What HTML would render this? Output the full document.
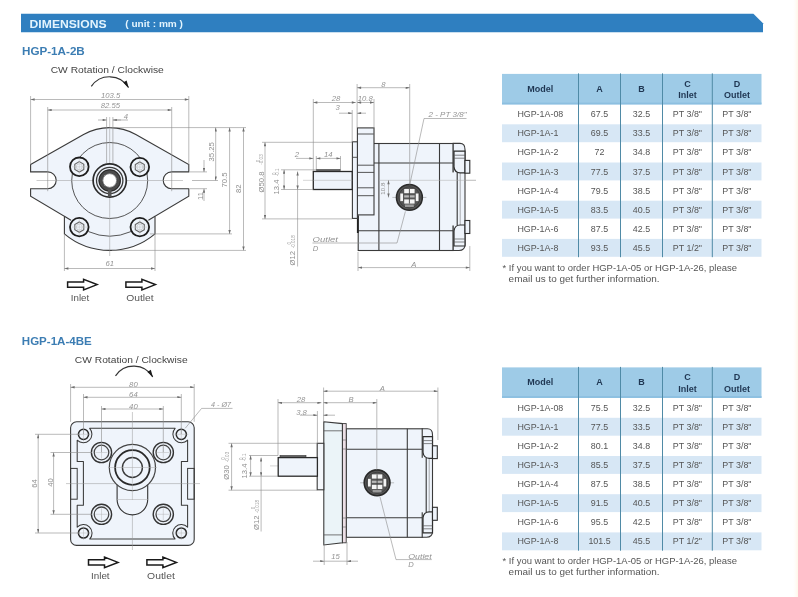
<!DOCTYPE html>
<html><head><meta charset="utf-8"><title>Dimensions</title>
<style>
html,body{margin:0;padding:0;background:#fff;}
body{width:798px;height:597px;overflow:hidden;font-family:"Liberation Sans", sans-serif;}
svg{display:block;font-family:"Liberation Sans", sans-serif;will-change:transform;}
</style></head><body>
<svg width="798" height="597" viewBox="0 0 798 597">
<rect x="0" y="0" width="798" height="597" fill="#fff"/>
<defs><linearGradient id="rg" x1="0" x2="1" y1="0" y2="0"><stop offset="0" stop-color="#fff" stop-opacity="0"/><stop offset="1" stop-color="#fff6e8"/></linearGradient></defs><rect x="792" y="0" width="6" height="597" fill="url(#rg)"/>
<defs><marker id="ar" viewBox="0 0 10 6" refX="10" refY="3" markerWidth="5.2" markerHeight="2.4" markerUnits="userSpaceOnUse" orient="auto-start-reverse"><path d="M0,0 L10,3 L0,6 Z" fill="#6e6e6e"/></marker></defs>
<polygon points="21,13.8 753.4,13.8 763,23.2 763,32.3 21,32.3" fill="#2f7fc0"/>
<text x="29.6" y="27.5" font-size="10.8" font-weight="bold" fill="#e3f4fd" textLength="77" lengthAdjust="spacingAndGlyphs">DIMENSIONS</text>
<text x="125.3" y="26.8" font-size="8.8" font-weight="bold" fill="#e3f4fd" textLength="57.7" lengthAdjust="spacingAndGlyphs">( unit : mm )</text>
<text x="22" y="54.6" font-size="11.4" font-weight="bold" fill="#3c7db3" textLength="62.8" lengthAdjust="spacingAndGlyphs">HGP-1A-2B</text>
<text x="50.7" y="72.5" font-size="9" fill="#444" textLength="113.1" lengthAdjust="spacingAndGlyphs">CW Rotation / Clockwise</text>
<path d="M91.3,86.4 A22.1,22.1 0 0 1 128.50,87.50" fill="none" stroke="#333" stroke-width="1.2"/><path d="M128.76,87.93 L123.18,82.53 L126.61,80.47 Z" fill="#1a1a1a"/>
<text x="21.8" y="345.1" font-size="11.4" font-weight="bold" fill="#3c7db3" textLength="69.9" lengthAdjust="spacingAndGlyphs">HGP-1A-4BE</text>
<text x="74.8" y="362.7" font-size="9" fill="#444" textLength="112.8" lengthAdjust="spacingAndGlyphs">CW Rotation / Clockwise</text>
<path d="M115.5,375.8 A22.1,22.1 0 0 1 152.70,376.90" fill="none" stroke="#333" stroke-width="1.2"/><path d="M152.96,377.33 L147.38,371.93 L150.81,369.87 Z" fill="#1a1a1a"/>
<polygon points="67.6,282.0 83.6,282.0 83.6,279.3 97.1,284.6 83.6,289.9 83.6,287.2 67.6,287.2" fill="#fff" stroke="#1a1a1a" stroke-width="1.5" stroke-linejoin="miter"/>
<polygon points="125.9,282.0 141.9,282.0 141.9,279.3 155.4,284.6 141.9,289.9 141.9,287.2 125.9,287.2" fill="#fff" stroke="#1a1a1a" stroke-width="1.5" stroke-linejoin="miter"/>
<text x="70.8" y="301" font-size="9" fill="#555" textLength="18.4" lengthAdjust="spacingAndGlyphs">Inlet</text>
<text x="126.2" y="301" font-size="9" fill="#555" textLength="27.5" lengthAdjust="spacingAndGlyphs">Outlet</text>
<polygon points="88.5,559.8 104.5,559.8 104.5,557.1 118.0,562.4 104.5,567.7 104.5,565.0 88.5,565.0" fill="#fff" stroke="#1a1a1a" stroke-width="1.5" stroke-linejoin="miter"/>
<polygon points="146.9,559.8 162.9,559.8 162.9,557.1 176.4,562.4 162.9,567.7 162.9,565.0 146.9,565.0" fill="#fff" stroke="#1a1a1a" stroke-width="1.5" stroke-linejoin="miter"/>
<text x="91" y="579.2" font-size="9" fill="#555" textLength="18.6" lengthAdjust="spacingAndGlyphs">Inlet</text>
<text x="147.1" y="579.2" font-size="9" fill="#555" textLength="27.7" lengthAdjust="spacingAndGlyphs">Outlet</text>
<path d="M30.6,164.6 L83.57,134.51 A52.9,52.9 0 0 1 135.83,134.51 L188.80,164.6 L188.80,171.9 L171.60,171.9 A8.399999999999991,8.399999999999991 0 0 0 171.60,188.7 L188.80,188.7 L188.80,196.3 L155,216.3 L155,233.9 A70.4,70.4 0 0 1 64.4,233.9 L64.4,216.3 L30.6,196.3 L30.6,188.7 L47.8,188.7 A8.399999999999991,8.399999999999991 0 0 0 47.8,171.9 L30.6,171.9 Z" fill="#eff4fb" stroke="#3a3a3a" stroke-width="1.1"/>
<circle cx="109.7" cy="180.5" r="38" fill="none" stroke="#444" stroke-width="0.9"/>
<path d="M88.5,231.6 A53,53 0 0 0 130.9,231.6" fill="none" stroke="#444" stroke-width="0.9"/>
<line x1="36.5" y1="180.5" x2="183" y2="180.5" stroke="#999" stroke-width="0.5"/>
<line x1="109.7" y1="117" x2="109.7" y2="256" stroke="#999" stroke-width="0.5"/>
<line x1="64.4" y1="216.3" x2="71" y2="220.3" stroke="#3a3a3a" stroke-width="1.1"/>
<line x1="155" y1="216.3" x2="148.4" y2="220.3" stroke="#3a3a3a" stroke-width="1.1"/>
<circle cx="79.3" cy="166.8" r="9.3" fill="#eff4fb" stroke="#1e1e1e" stroke-width="1.8"/><polygon points="83.8,169.4 79.3,172.0 74.8,169.4 74.8,164.2 79.3,161.6 83.8,164.2" fill="none" stroke="#666" stroke-width="1.1"/><circle cx="79.3" cy="166.8" r="3" fill="none" stroke="#bbb" stroke-width="0.6"/><line x1="71.3" y1="166.8" x2="87.3" y2="166.8" stroke="#c4c4c4" stroke-width="0.5"/><line x1="79.3" y1="158.8" x2="79.3" y2="174.8" stroke="#c4c4c4" stroke-width="0.5"/>
<circle cx="139.8" cy="167.1" r="9.3" fill="#eff4fb" stroke="#1e1e1e" stroke-width="1.8"/><polygon points="144.3,169.7 139.8,172.3 135.3,169.7 135.3,164.5 139.8,161.9 144.3,164.5" fill="none" stroke="#666" stroke-width="1.1"/><circle cx="139.8" cy="167.1" r="3" fill="none" stroke="#bbb" stroke-width="0.6"/><line x1="131.8" y1="167.1" x2="147.8" y2="167.1" stroke="#c4c4c4" stroke-width="0.5"/><line x1="139.8" y1="159.1" x2="139.8" y2="175.1" stroke="#c4c4c4" stroke-width="0.5"/>
<circle cx="79.3" cy="227.1" r="9.3" fill="#eff4fb" stroke="#1e1e1e" stroke-width="1.8"/><polygon points="83.8,229.7 79.3,232.3 74.8,229.7 74.8,224.5 79.3,221.9 83.8,224.5" fill="none" stroke="#666" stroke-width="1.1"/><circle cx="79.3" cy="227.1" r="3" fill="none" stroke="#bbb" stroke-width="0.6"/><line x1="71.3" y1="227.1" x2="87.3" y2="227.1" stroke="#c4c4c4" stroke-width="0.5"/><line x1="79.3" y1="219.1" x2="79.3" y2="235.1" stroke="#c4c4c4" stroke-width="0.5"/>
<circle cx="139.8" cy="227.1" r="9.3" fill="#eff4fb" stroke="#1e1e1e" stroke-width="1.8"/><polygon points="144.3,229.7 139.8,232.3 135.3,229.7 135.3,224.5 139.8,221.9 144.3,224.5" fill="none" stroke="#666" stroke-width="1.1"/><circle cx="139.8" cy="227.1" r="3" fill="none" stroke="#bbb" stroke-width="0.6"/><line x1="131.8" y1="227.1" x2="147.8" y2="227.1" stroke="#c4c4c4" stroke-width="0.5"/><line x1="139.8" y1="219.1" x2="139.8" y2="235.1" stroke="#c4c4c4" stroke-width="0.5"/>
<circle cx="109.7" cy="180.5" r="16.6" fill="#eff4fb" stroke="#2a2a2a" stroke-width="1.7"/>
<circle cx="109.7" cy="180.5" r="13.2" fill="none" stroke="#3a3a3a" stroke-width="1.3"/>
<circle cx="109.7" cy="180.5" r="9.2" fill="none" stroke="#4a4a4a" stroke-width="4.2"/>
<circle cx="109.7" cy="180.5" r="10.6" fill="none" stroke="#2a2a2a" stroke-width="1"/>
<circle cx="109.7" cy="180.5" r="6.9" fill="#fff" stroke="#333" stroke-width="0.6"/>
<rect x="107.9" y="189.5" width="3.6" height="7" fill="#555"/>
<line x1="30.6" y1="96" x2="30.6" y2="164.6" stroke="#8c8c8c" stroke-width="0.6" fill="none"/>
<line x1="188.8" y1="96" x2="188.8" y2="164.6" stroke="#8c8c8c" stroke-width="0.6" fill="none"/>
<line x1="47.7" y1="107" x2="47.7" y2="191.2" stroke="#8c8c8c" stroke-width="0.6" fill="none"/>
<line x1="171.7" y1="107" x2="171.7" y2="191.2" stroke="#8c8c8c" stroke-width="0.6" fill="none"/>
<line x1="106.6" y1="117" x2="106.6" y2="163.5" stroke="#8c8c8c" stroke-width="0.6" fill="none"/>
<line x1="112.9" y1="117" x2="112.9" y2="163.5" stroke="#8c8c8c" stroke-width="0.6" fill="none"/>
<line x1="30.6" y1="99.5" x2="188.8" y2="99.5" stroke="#8c8c8c" stroke-width="0.6" fill="none" marker-start="url(#ar)" marker-end="url(#ar)"/>
<text x="110.6" y="97.7" font-size="7.7" fill="#939393" text-anchor="middle" font-style="italic">103.5</text>
<line x1="47.7" y1="110" x2="171.7" y2="110" stroke="#8c8c8c" stroke-width="0.6" fill="none" marker-start="url(#ar)" marker-end="url(#ar)"/>
<text x="110.4" y="108.2" font-size="7.7" fill="#939393" text-anchor="middle" font-style="italic">82.55</text>
<line x1="98" y1="120" x2="106.6" y2="120" stroke="#8c8c8c" stroke-width="0.6" fill="none" marker-end="url(#ar)"/>
<line x1="121" y1="120" x2="112.9" y2="120" stroke="#8c8c8c" stroke-width="0.6" fill="none" marker-end="url(#ar)"/>
<line x1="112.9" y1="120" x2="128" y2="120" stroke="#8c8c8c" stroke-width="0.6" fill="none"/>
<text x="126" y="119.4" font-size="7.7" fill="#939393" text-anchor="middle" font-style="italic">4</text>
<line x1="110" y1="127.6" x2="246" y2="127.6" stroke="#8c8c8c" stroke-width="0.6" fill="none"/>
<line x1="192" y1="180.5" x2="218" y2="180.5" stroke="#8c8c8c" stroke-width="0.6" fill="none"/>
<line x1="150" y1="233.9" x2="232" y2="233.9" stroke="#8c8c8c" stroke-width="0.6" fill="none"/>
<line x1="112" y1="250.4" x2="246" y2="250.4" stroke="#8c8c8c" stroke-width="0.6" fill="none"/>
<line x1="190" y1="171.9" x2="207" y2="171.9" stroke="#8c8c8c" stroke-width="0.6" fill="none"/>
<line x1="190" y1="188.7" x2="207" y2="188.7" stroke="#8c8c8c" stroke-width="0.6" fill="none"/>
<line x1="215.7" y1="127.6" x2="215.7" y2="180.5" stroke="#8c8c8c" stroke-width="0.6" fill="none" marker-start="url(#ar)" marker-end="url(#ar)"/>
<text x="214" y="151.8" transform="rotate(-90 214 151.8)" font-size="7.7" fill="#8e8e8e" text-anchor="middle">35.25</text>
<line x1="229.6" y1="127.6" x2="229.6" y2="233.9" stroke="#8c8c8c" stroke-width="0.6" fill="none" marker-start="url(#ar)" marker-end="url(#ar)"/>
<text x="227" y="180" transform="rotate(-90 227 180)" font-size="7.7" fill="#8e8e8e" text-anchor="middle">70.5</text>
<line x1="243.5" y1="127.6" x2="243.5" y2="250.4" stroke="#8c8c8c" stroke-width="0.6" fill="none" marker-start="url(#ar)" marker-end="url(#ar)"/>
<text x="241" y="188.7" transform="rotate(-90 241 188.7)" font-size="7.7" fill="#8e8e8e" text-anchor="middle">82</text>
<line x1="204" y1="160" x2="204" y2="171.9" stroke="#8c8c8c" stroke-width="0.6" fill="none" marker-end="url(#ar)"/>
<line x1="204" y1="201" x2="204" y2="188.7" stroke="#8c8c8c" stroke-width="0.6" fill="none" marker-end="url(#ar)"/>
<text x="202.6" y="196" transform="rotate(-90 202.6 196)" font-size="7.7" fill="#8e8e8e" text-anchor="middle">11</text>
<line x1="64.4" y1="234" x2="64.4" y2="271" stroke="#8c8c8c" stroke-width="0.6" fill="none"/>
<line x1="155" y1="234" x2="155" y2="271" stroke="#8c8c8c" stroke-width="0.6" fill="none"/>
<line x1="64.4" y1="268.5" x2="155" y2="268.5" stroke="#8c8c8c" stroke-width="0.6" fill="none" marker-start="url(#ar)" marker-end="url(#ar)"/>
<text x="109.7" y="266.3" font-size="7.7" fill="#939393" text-anchor="middle" font-style="italic">61</text>
<line x1="303" y1="180.3" x2="476" y2="180.3" stroke="#aaa" stroke-width="0.5"/>
<rect x="358.2" y="143.5" width="95" height="107" fill="#eff4fb" stroke="#3a3a3a" stroke-width="1.1"/>
<line x1="378.9" y1="143.5" x2="378.9" y2="250.5" stroke="#3a3a3a" stroke-width="1.1"/>
<line x1="439.5" y1="143.5" x2="439.5" y2="250.5" stroke="#3a3a3a" stroke-width="1.1"/>
<line x1="374" y1="163" x2="453.2" y2="163" stroke="#3a3a3a" stroke-width="1.1"/>
<line x1="358.2" y1="230.7" x2="453.2" y2="230.7" stroke="#3a3a3a" stroke-width="1.1"/>
<line x1="357.8" y1="216" x2="357.8" y2="233" stroke="#222" stroke-width="1.8"/>
<path d="M453.2,143.4 L460.0,143.4 Q465.0,143.4 465.0,149.4 L465.0,244.5 Q465.0,250.5 459.0,250.5 L453.2,250.5 Z" fill="#eff4fb" stroke="#3a3a3a" stroke-width="1.1"/>
<rect x="451.2" y="172.4" width="6" height="53.099999999999994" fill="#eff4fb"/>
<line x1="457.2" y1="172.4" x2="457.2" y2="225.5" stroke="#333" stroke-width="1.1"/>
<line x1="460.2" y1="172.4" x2="460.2" y2="225.5" stroke="#777" stroke-width="0.6"/>
<path d="M454.0,151.20000000000002 L465.0,151.20000000000002 L465.0,172.9 L460.2,172.9 Q454.7,172.9 454.0,166.9 Z" fill="#eff4fb" stroke="#2e2e2e" stroke-width="1.2"/>
<line x1="454.2" y1="155.20000000000002" x2="465.0" y2="155.20000000000002" stroke="#555" stroke-width="0.7"/>
<line x1="454.2" y1="158.20000000000002" x2="465.0" y2="158.20000000000002" stroke="#555" stroke-width="0.7"/>
<rect x="465.0" y="160.4" width="4.8" height="12.8" fill="#eff4fb" stroke="#2e2e2e" stroke-width="1.1"/>
<path d="M454.0,246.0 L465.0,246.0 L465.0,225.0 L460.2,225.0 Q454.7,225.0 454.0,231.0 Z" fill="#eff4fb" stroke="#2e2e2e" stroke-width="1.2"/>
<line x1="454.2" y1="242.0" x2="465.0" y2="242.0" stroke="#555" stroke-width="0.7"/>
<line x1="454.2" y1="239.0" x2="465.0" y2="239.0" stroke="#555" stroke-width="0.7"/>
<rect x="465.0" y="220.5" width="4.8" height="13" fill="#eff4fb" stroke="#2e2e2e" stroke-width="1.1"/>
<rect x="357.4" y="127.9" width="16.6" height="87" fill="#eff4fb" stroke="#3a3a3a" stroke-width="1.1"/>
<line x1="357.4" y1="134" x2="374" y2="134" stroke="#444" stroke-width="0.9"/>
<line x1="357.4" y1="165.2" x2="374" y2="165.2" stroke="#444" stroke-width="0.9"/>
<line x1="357.4" y1="172.4" x2="374" y2="172.4" stroke="#444" stroke-width="0.9"/>
<line x1="357.4" y1="187.8" x2="374" y2="187.8" stroke="#444" stroke-width="0.9"/>
<line x1="357.4" y1="195.7" x2="374" y2="195.7" stroke="#444" stroke-width="0.9"/>
<rect x="352.4" y="141.8" width="5" height="76.6" fill="#eff4fb" stroke="#3a3a3a" stroke-width="1.1"/>
<line x1="352.4" y1="157.3" x2="357.4" y2="157.3" stroke="#444" stroke-width="0.9"/>
<rect x="316.4" y="169.6" width="23.8" height="2" fill="#666" stroke="#333" stroke-width="0.6"/>
<rect x="313.3" y="171.5" width="38.9" height="18" fill="#eff4fb" stroke="#2a2a2a" stroke-width="1.3"/>
<line x1="313.3" y1="180.3" x2="352.2" y2="180.3" stroke="#aaa" stroke-width="0.5"/>
<line x1="379" y1="180.3" x2="476" y2="180.3" stroke="#aaa" stroke-width="0.5"/>
<line x1="392.4" y1="197.4" x2="426.4" y2="197.4" stroke="#888" stroke-width="0.5"/>
<circle cx="409.4" cy="197.4" r="12.9" fill="#565656" stroke="#2a2a2a" stroke-width="1.6"/>
<circle cx="409.4" cy="197.4" r="10.6" fill="none" stroke="#3a3a3a" stroke-width="0.8"/>
<rect x="404.2" y="189.0" width="10.4" height="4.2" fill="#f4f4f4"/>
<rect x="404.2" y="195.3" width="10.4" height="2.2" fill="#b8b8b8"/>
<rect x="404.2" y="199.4" width="10.4" height="4.2" fill="#f4f4f4"/>
<rect x="405.0" y="204.5" width="8.8" height="2.5" fill="#9a9a9a"/>
<rect x="400.29999999999995" y="193.5" width="2.7" height="7.6" fill="#f4f4f4"/>
<rect x="415.79999999999995" y="193.5" width="2.7" height="7.6" fill="#f4f4f4"/>
<line x1="409.4" y1="189.0" x2="409.4" y2="203.6" stroke="#444" stroke-width="0.9"/>
<line x1="357.1" y1="84" x2="357.1" y2="127.5" stroke="#8c8c8c" stroke-width="0.6" fill="none"/>
<line x1="409.7" y1="84" x2="409.7" y2="184" stroke="#8c8c8c" stroke-width="0.6" fill="none"/>
<line x1="313.3" y1="99" x2="313.3" y2="171" stroke="#8c8c8c" stroke-width="0.6" fill="none"/>
<line x1="374" y1="99" x2="374" y2="143" stroke="#8c8c8c" stroke-width="0.6" fill="none"/>
<line x1="352.2" y1="110" x2="352.2" y2="142" stroke="#8c8c8c" stroke-width="0.6" fill="none"/>
<line x1="357.1" y1="87.7" x2="409.7" y2="87.7" stroke="#8c8c8c" stroke-width="0.6" fill="none" marker-start="url(#ar)" marker-end="url(#ar)"/>
<text x="383.4" y="87" font-size="7.7" fill="#939393" text-anchor="middle" font-style="italic">8</text>
<line x1="313.3" y1="102.5" x2="355.8" y2="102.5" stroke="#8c8c8c" stroke-width="0.6" fill="none" marker-start="url(#ar)" marker-end="url(#ar)"/>
<text x="336" y="101.2" font-size="7.7" fill="#939393" text-anchor="middle" font-style="italic">28</text>
<line x1="357.1" y1="102.5" x2="374" y2="102.5" stroke="#8c8c8c" stroke-width="0.6" fill="none" marker-start="url(#ar)" marker-end="url(#ar)"/>
<text x="365.2" y="101.2" font-size="7.7" fill="#939393" text-anchor="middle" font-style="italic">10.8</text>
<line x1="339" y1="113.2" x2="352.2" y2="113.2" stroke="#8c8c8c" stroke-width="0.6" fill="none" marker-end="url(#ar)"/>
<line x1="366" y1="113.2" x2="357.1" y2="113.2" stroke="#8c8c8c" stroke-width="0.6" fill="none" marker-end="url(#ar)"/>
<text x="337.6" y="110.2" font-size="7.7" fill="#939393" text-anchor="middle" font-style="italic">3</text>
<line x1="296" y1="158.4" x2="313.3" y2="158.4" stroke="#8c8c8c" stroke-width="0.6" fill="none" marker-end="url(#ar)"/>
<text x="297" y="157" font-size="7.7" fill="#939393" text-anchor="middle" font-style="italic">2</text>
<line x1="316.3" y1="158.4" x2="340.5" y2="158.4" stroke="#8c8c8c" stroke-width="0.6" fill="none" marker-start="url(#ar)" marker-end="url(#ar)"/>
<line x1="316.3" y1="156" x2="316.3" y2="171" stroke="#8c8c8c" stroke-width="0.6" fill="none"/>
<line x1="340.5" y1="156" x2="340.5" y2="171" stroke="#8c8c8c" stroke-width="0.6" fill="none"/>
<text x="328.3" y="157" font-size="7.7" fill="#939393" text-anchor="middle" font-style="italic">14</text>
<line x1="262" y1="142.3" x2="352.2" y2="142.3" stroke="#8c8c8c" stroke-width="0.6" fill="none"/>
<line x1="262" y1="218.9" x2="352.2" y2="218.9" stroke="#8c8c8c" stroke-width="0.6" fill="none"/>
<line x1="281" y1="169.8" x2="316.4" y2="169.8" stroke="#8c8c8c" stroke-width="0.6" fill="none"/>
<line x1="281" y1="189.5" x2="313.3" y2="189.5" stroke="#8c8c8c" stroke-width="0.6" fill="none"/>
<line x1="265" y1="142.3" x2="265" y2="218.9" stroke="#8c8c8c" stroke-width="0.6" fill="none" marker-start="url(#ar)" marker-end="url(#ar)"/>
<text x="263.8" y="182" transform="rotate(-90 263.8 182)" font-size="7.7" fill="#8e8e8e" text-anchor="middle">Ø50.8</text>
<text x="263.3" y="159.5" transform="rotate(-90 263.3 159.5)" font-size="4.6" fill="#999" text-anchor="middle">-0.03</text><text x="259.7" y="161.0" transform="rotate(-90 259.7 161.0)" font-size="4.6" fill="#999" text-anchor="middle">0</text>
<line x1="284.1" y1="169.8" x2="284.1" y2="189.5" stroke="#8c8c8c" stroke-width="0.6" fill="none" marker-start="url(#ar)" marker-end="url(#ar)"/>
<text x="279.4" y="187" transform="rotate(-90 279.4 187)" font-size="7.7" fill="#8e8e8e" text-anchor="middle">13.4</text>
<text x="279.2" y="172.3" transform="rotate(-90 279.2 172.3)" font-size="4.6" fill="#999" text-anchor="middle">-0.1</text><text x="275.59999999999997" y="173.8" transform="rotate(-90 275.59999999999997 173.8)" font-size="4.6" fill="#999" text-anchor="middle">0</text>
<line x1="297.6" y1="171.5" x2="297.6" y2="189.5" stroke="#8c8c8c" stroke-width="0.6" fill="none" marker-start="url(#ar)" marker-end="url(#ar)"/>
<line x1="297.6" y1="189.5" x2="297.6" y2="266.5" stroke="#8c8c8c" stroke-width="0.6" fill="none"/>
<text x="294.9" y="258.3" transform="rotate(-90 294.9 258.3)" font-size="7.7" fill="#8e8e8e" text-anchor="middle">Ø12</text>
<text x="295" y="241.8" transform="rotate(-90 295 241.8)" font-size="4.6" fill="#999" text-anchor="middle">-0.018</text><text x="291.4" y="243.3" transform="rotate(-90 291.4 243.3)" font-size="4.6" fill="#999" text-anchor="middle">0</text>
<line x1="388.5" y1="180.3" x2="388.5" y2="197.4" stroke="#8c8c8c" stroke-width="0.6" fill="none" marker-start="url(#ar)" marker-end="url(#ar)"/>
<text x="385.5" y="188.6" transform="rotate(-90 385.5 188.6)" font-size="6.2" fill="#8e8e8e" text-anchor="middle">10.8</text>
<polyline points="409.8,184.5 424,118.5 466.5,118.5" stroke="#8c8c8c" stroke-width="0.6" fill="none"/>
<text x="428.5" y="117" font-size="7.4" fill="#939393" text-anchor="start" font-style="italic" textLength="38" lengthAdjust="spacingAndGlyphs">2 - PT 3/8"</text>
<polyline points="405.4,211.4 397,243 312.5,243" stroke="#8c8c8c" stroke-width="0.6" fill="none"/>
<text x="312.6" y="241.9" font-size="7.6" fill="#939393" text-anchor="start" font-style="italic" textLength="25.4" lengthAdjust="spacingAndGlyphs">Outlet</text>
<text x="312.8" y="250.6" font-size="7.6" fill="#939393" text-anchor="start" font-style="italic">D</text>
<line x1="358" y1="252" x2="358" y2="271" stroke="#8c8c8c" stroke-width="0.6" fill="none"/>
<line x1="469.8" y1="246" x2="469.8" y2="271" stroke="#8c8c8c" stroke-width="0.6" fill="none"/>
<line x1="358" y1="267.6" x2="469.8" y2="267.6" stroke="#8c8c8c" stroke-width="0.6" fill="none" marker-start="url(#ar)" marker-end="url(#ar)"/>
<text x="413.8" y="267" font-size="7.7" fill="#939393" text-anchor="middle" font-style="italic">A</text>
<rect x="70.6" y="421.8" width="123.6" height="123.6" rx="6" fill="#eff4fb" stroke="#3a3a3a" stroke-width="1.1"/>
<path d="M89.66,428.3 L175.14,428.3 A8.6,8.6 0 0 0 187.6,440.15 L187.6,461.5 L181.4,461.5 L181.4,505.2 L187.6,505.2 L187.6,527.15 A8.6,8.6 0 0 0 175.04,538.9 L89.76,538.9 A8.6,8.6 0 0 0 77.2,527.15 L77.2,505.2 L83.4,505.2 L83.4,461.5 L77.2,461.5 L77.2,440.15 A8.6,8.6 0 0 0 89.66,428.3 Z" fill="none" stroke="#3a3a3a" stroke-width="1.05" stroke-linejoin="round"/>
<rect x="70.6" y="468.4" width="6.6" height="30.8" fill="none" stroke="#3a3a3a" stroke-width="1"/>
<rect x="187.6" y="468.4" width="6.6" height="30.8" fill="none" stroke="#3a3a3a" stroke-width="1"/>
<line x1="66" y1="483.6" x2="200" y2="483.6" stroke="#999" stroke-width="0.5"/>
<line x1="132.4" y1="412" x2="132.4" y2="550" stroke="#999" stroke-width="0.5"/>
<circle cx="83.5" cy="434.3" r="5.1" fill="#eff4fb" stroke="#2a2a2a" stroke-width="1.5"/>
<line x1="76.5" y1="434.3" x2="90.5" y2="434.3" stroke="#aaa" stroke-width="0.4"/>
<line x1="83.5" y1="427.3" x2="83.5" y2="441.3" stroke="#aaa" stroke-width="0.4"/>
<circle cx="181.3" cy="434.3" r="5.1" fill="#eff4fb" stroke="#2a2a2a" stroke-width="1.5"/>
<line x1="174.3" y1="434.3" x2="188.3" y2="434.3" stroke="#aaa" stroke-width="0.4"/>
<line x1="181.3" y1="427.3" x2="181.3" y2="441.3" stroke="#aaa" stroke-width="0.4"/>
<circle cx="83.5" cy="533" r="5.1" fill="#eff4fb" stroke="#2a2a2a" stroke-width="1.5"/>
<line x1="76.5" y1="533" x2="90.5" y2="533" stroke="#aaa" stroke-width="0.4"/>
<line x1="83.5" y1="526" x2="83.5" y2="540" stroke="#aaa" stroke-width="0.4"/>
<circle cx="181.3" cy="533" r="5.1" fill="#eff4fb" stroke="#2a2a2a" stroke-width="1.5"/>
<line x1="174.3" y1="533" x2="188.3" y2="533" stroke="#aaa" stroke-width="0.4"/>
<line x1="181.3" y1="526" x2="181.3" y2="540" stroke="#aaa" stroke-width="0.4"/>
<circle cx="101.5" cy="452.5" r="10.1" fill="#eff4fb" stroke="#333" stroke-width="1.4"/>
<circle cx="101.5" cy="452.5" r="7.3" fill="none" stroke="#444" stroke-width="1.3"/>
<line x1="95.5" y1="452.5" x2="107.5" y2="452.5" stroke="#aaa" stroke-width="0.4"/>
<line x1="101.5" y1="446.5" x2="101.5" y2="458.5" stroke="#aaa" stroke-width="0.4"/>
<circle cx="163.3" cy="452.5" r="10.1" fill="#eff4fb" stroke="#333" stroke-width="1.4"/>
<circle cx="163.3" cy="452.5" r="7.3" fill="none" stroke="#444" stroke-width="1.3"/>
<line x1="157.3" y1="452.5" x2="169.3" y2="452.5" stroke="#aaa" stroke-width="0.4"/>
<line x1="163.3" y1="446.5" x2="163.3" y2="458.5" stroke="#aaa" stroke-width="0.4"/>
<circle cx="101.5" cy="514.3" r="10.1" fill="#eff4fb" stroke="#333" stroke-width="1.4"/>
<circle cx="101.5" cy="514.3" r="7.3" fill="none" stroke="#444" stroke-width="1.3"/>
<line x1="95.5" y1="514.3" x2="107.5" y2="514.3" stroke="#aaa" stroke-width="0.4"/>
<line x1="101.5" y1="508.29999999999995" x2="101.5" y2="520.3" stroke="#aaa" stroke-width="0.4"/>
<circle cx="163.3" cy="514.3" r="10.1" fill="#eff4fb" stroke="#333" stroke-width="1.4"/>
<circle cx="163.3" cy="514.3" r="7.3" fill="none" stroke="#444" stroke-width="1.3"/>
<line x1="157.3" y1="514.3" x2="169.3" y2="514.3" stroke="#aaa" stroke-width="0.4"/>
<line x1="163.3" y1="508.29999999999995" x2="163.3" y2="520.3" stroke="#aaa" stroke-width="0.4"/>
<path d="M117.1,484 L117.1,499.6 A15.3,15.3 0 0 0 147.7,499.6 L147.7,484" fill="#eff4fb" stroke="#333" stroke-width="1.1"/>
<circle cx="132.4" cy="467.5" r="23.1" fill="#eff4fb" stroke="#444" stroke-width="1.2"/>
<circle cx="132.4" cy="467.5" r="17.3" fill="none" stroke="#2a2a2a" stroke-width="1.8"/>
<circle cx="132.4" cy="467.5" r="10" fill="none" stroke="#3a3a3a" stroke-width="1.4"/>
<line x1="108" y1="467.5" x2="157" y2="467.5" stroke="#aaa" stroke-width="0.5"/>
<line x1="132.4" y1="440" x2="132.4" y2="500" stroke="#aaa" stroke-width="0.5"/>
<line x1="117" y1="499.5" x2="148.4" y2="499.5" stroke="#aaa" stroke-width="0.5"/>
<line x1="70.6" y1="384" x2="70.6" y2="421.8" stroke="#8c8c8c" stroke-width="0.6" fill="none"/>
<line x1="194.2" y1="384" x2="194.2" y2="421.8" stroke="#8c8c8c" stroke-width="0.6" fill="none"/>
<line x1="83.5" y1="394" x2="83.5" y2="434" stroke="#8c8c8c" stroke-width="0.6" fill="none"/>
<line x1="181.3" y1="394" x2="181.3" y2="434" stroke="#8c8c8c" stroke-width="0.6" fill="none"/>
<line x1="101.5" y1="406" x2="101.5" y2="452" stroke="#8c8c8c" stroke-width="0.6" fill="none"/>
<line x1="163.3" y1="406" x2="163.3" y2="452" stroke="#8c8c8c" stroke-width="0.6" fill="none"/>
<line x1="70.6" y1="387.3" x2="194.2" y2="387.3" stroke="#8c8c8c" stroke-width="0.6" fill="none" marker-start="url(#ar)" marker-end="url(#ar)"/>
<text x="133.4" y="386.8" font-size="7.7" fill="#939393" text-anchor="middle" font-style="italic">80</text>
<line x1="83.5" y1="397.3" x2="181.3" y2="397.3" stroke="#8c8c8c" stroke-width="0.6" fill="none" marker-start="url(#ar)" marker-end="url(#ar)"/>
<text x="133.4" y="397.1" font-size="7.7" fill="#939393" text-anchor="middle" font-style="italic">64</text>
<line x1="101.5" y1="409" x2="163.3" y2="409" stroke="#8c8c8c" stroke-width="0.6" fill="none" marker-start="url(#ar)" marker-end="url(#ar)"/>
<text x="133.4" y="408.5" font-size="7.7" fill="#939393" text-anchor="middle" font-style="italic">40</text>
<line x1="35" y1="434.3" x2="80" y2="434.3" stroke="#8c8c8c" stroke-width="0.6" fill="none"/>
<line x1="35" y1="533" x2="80" y2="533" stroke="#8c8c8c" stroke-width="0.6" fill="none"/>
<line x1="50.5" y1="452.5" x2="92" y2="452.5" stroke="#8c8c8c" stroke-width="0.6" fill="none"/>
<line x1="50.5" y1="514.3" x2="92" y2="514.3" stroke="#8c8c8c" stroke-width="0.6" fill="none"/>
<line x1="38.2" y1="434.3" x2="38.2" y2="533" stroke="#8c8c8c" stroke-width="0.6" fill="none" marker-start="url(#ar)" marker-end="url(#ar)"/>
<text x="37.4" y="483.4" transform="rotate(-90 37.4 483.4)" font-size="7.7" fill="#8e8e8e" text-anchor="middle">64</text>
<line x1="53.6" y1="452.5" x2="53.6" y2="514.3" stroke="#8c8c8c" stroke-width="0.6" fill="none" marker-start="url(#ar)" marker-end="url(#ar)"/>
<text x="52.6" y="482.5" transform="rotate(-90 52.6 482.5)" font-size="7.7" fill="#8e8e8e" text-anchor="middle">40</text>
<polyline points="185.2,428.3 201.6,408.4 232.5,408.4" stroke="#8c8c8c" stroke-width="0.6" fill="none"/>
<text x="221" y="406.8" font-size="7.2" fill="#939393" text-anchor="middle" font-style="italic">4 - Ø7</text>
<line x1="270" y1="465.9" x2="330" y2="465.9" stroke="#aaa" stroke-width="0.5"/>
<rect x="346.4" y="428.8" width="76.2" height="108.5" fill="#eff4fb" stroke="#3a3a3a" stroke-width="1.1"/>
<line x1="407.3" y1="428.8" x2="407.3" y2="537.3" stroke="#3a3a3a" stroke-width="1.1"/>
<line x1="346.4" y1="449.2" x2="422.6" y2="449.2" stroke="#3a3a3a" stroke-width="1.1"/>
<line x1="346.4" y1="517.7" x2="422.6" y2="517.7" stroke="#3a3a3a" stroke-width="1.1"/>
<path d="M422.2,428.8 L427.5,428.8 Q432.5,428.8 432.5,434.8 L432.5,531.3 Q432.5,537.3 426.5,537.3 L422.2,537.3 Z" fill="#eff4fb" stroke="#3a3a3a" stroke-width="1.1"/>
<rect x="420.2" y="457.8" width="6" height="54.49999999999994" fill="#eff4fb"/>
<line x1="426.2" y1="457.8" x2="426.2" y2="512.3" stroke="#333" stroke-width="1.1"/>
<line x1="429.2" y1="457.8" x2="429.2" y2="512.3" stroke="#777" stroke-width="0.6"/>
<path d="M423.0,436.6 L432.5,436.6 L432.5,458.3 L429.2,458.3 Q423.7,458.3 423.0,452.3 Z" fill="#eff4fb" stroke="#2e2e2e" stroke-width="1.2"/>
<line x1="423.2" y1="440.6" x2="432.5" y2="440.6" stroke="#555" stroke-width="0.7"/>
<line x1="423.2" y1="443.6" x2="432.5" y2="443.6" stroke="#555" stroke-width="0.7"/>
<rect x="432.5" y="445.8" width="4.8" height="12.8" fill="#eff4fb" stroke="#2e2e2e" stroke-width="1.1"/>
<path d="M423.0,532.8 L432.5,532.8 L432.5,511.79999999999995 L429.2,511.79999999999995 Q423.7,511.79999999999995 423.0,517.8 Z" fill="#eff4fb" stroke="#2e2e2e" stroke-width="1.2"/>
<line x1="423.2" y1="528.8" x2="432.5" y2="528.8" stroke="#555" stroke-width="0.7"/>
<line x1="423.2" y1="525.8" x2="432.5" y2="525.8" stroke="#555" stroke-width="0.7"/>
<rect x="432.5" y="507.29999999999995" width="4.8" height="13" fill="#eff4fb" stroke="#2e2e2e" stroke-width="1.1"/>
<rect x="342.4" y="423.6" width="3.8" height="119.2" fill="#ecdfe6" stroke="#3a3a3a" stroke-width="0.9"/>
<line x1="342.4" y1="440" x2="346.2" y2="440" stroke="#666" stroke-width="0.6"/>
<line x1="342.4" y1="449" x2="346.2" y2="449" stroke="#666" stroke-width="0.6"/>
<line x1="342.4" y1="518" x2="346.2" y2="518" stroke="#666" stroke-width="0.6"/>
<line x1="342.4" y1="527" x2="346.2" y2="527" stroke="#666" stroke-width="0.6"/>
<polygon points="323.8,421.8 342.4,423.6 342.4,542.8 323.8,545" fill="#ebf4f8" stroke="#3a3a3a" stroke-width="1.1"/>
<line x1="323.8" y1="430.8" x2="342.4" y2="430.8" stroke="#555" stroke-width="0.8"/>
<line x1="323.8" y1="534.9" x2="342.4" y2="534.9" stroke="#555" stroke-width="0.8"/>
<rect x="317.2" y="443.3" width="6.6" height="46.5" fill="#f4f7fb" stroke="#3a3a3a" stroke-width="1.1"/>
<rect x="280" y="455.5" width="26" height="2.1" fill="#666" stroke="#333" stroke-width="0.6"/>
<rect x="278.2" y="457.6" width="39.2" height="18.6" fill="#eff4fb" stroke="#2a2a2a" stroke-width="1.3"/>
<line x1="360.1" y1="482.8" x2="394.1" y2="482.8" stroke="#888" stroke-width="0.5"/>
<circle cx="377.1" cy="482.8" r="12.9" fill="#565656" stroke="#2a2a2a" stroke-width="1.6"/>
<circle cx="377.1" cy="482.8" r="10.6" fill="none" stroke="#3a3a3a" stroke-width="0.8"/>
<rect x="371.90000000000003" y="474.40000000000003" width="10.4" height="4.2" fill="#f4f4f4"/>
<rect x="371.90000000000003" y="480.7" width="10.4" height="2.2" fill="#b8b8b8"/>
<rect x="371.90000000000003" y="484.8" width="10.4" height="4.2" fill="#f4f4f4"/>
<rect x="372.70000000000005" y="489.90000000000003" width="8.8" height="2.5" fill="#9a9a9a"/>
<rect x="368.0" y="478.90000000000003" width="2.7" height="7.6" fill="#f4f4f4"/>
<rect x="383.5" y="478.90000000000003" width="2.7" height="7.6" fill="#f4f4f4"/>
<line x1="377.1" y1="474.40000000000003" x2="377.1" y2="489.0" stroke="#444" stroke-width="0.9"/>
<line x1="323.6" y1="387.5" x2="323.6" y2="421.7" stroke="#8c8c8c" stroke-width="0.6" fill="none"/>
<line x1="437.9" y1="387.5" x2="437.9" y2="440" stroke="#8c8c8c" stroke-width="0.6" fill="none"/>
<line x1="278" y1="399" x2="278" y2="455.5" stroke="#8c8c8c" stroke-width="0.6" fill="none"/>
<line x1="376.8" y1="399" x2="376.8" y2="470" stroke="#8c8c8c" stroke-width="0.6" fill="none"/>
<line x1="317.4" y1="411" x2="317.4" y2="443.3" stroke="#8c8c8c" stroke-width="0.6" fill="none"/>
<line x1="323.4" y1="391.2" x2="437.9" y2="391.2" stroke="#8c8c8c" stroke-width="0.6" fill="none" marker-start="url(#ar)" marker-end="url(#ar)"/>
<text x="382.3" y="390.6" font-size="7.7" fill="#939393" text-anchor="middle" font-style="italic">A</text>
<line x1="278" y1="402.7" x2="321.4" y2="402.7" stroke="#8c8c8c" stroke-width="0.6" fill="none" marker-start="url(#ar)" marker-end="url(#ar)"/>
<text x="301.1" y="402" font-size="7.7" fill="#939393" text-anchor="middle" font-style="italic">28</text>
<line x1="323.4" y1="402.7" x2="376.8" y2="402.7" stroke="#8c8c8c" stroke-width="0.6" fill="none" marker-start="url(#ar)" marker-end="url(#ar)"/>
<text x="351" y="402" font-size="7.7" fill="#939393" text-anchor="middle" font-style="italic">B</text>
<line x1="300" y1="415.2" x2="317.4" y2="415.2" stroke="#8c8c8c" stroke-width="0.6" fill="none" marker-end="url(#ar)"/>
<line x1="335" y1="415.2" x2="323.4" y2="415.2" stroke="#8c8c8c" stroke-width="0.6" fill="none" marker-end="url(#ar)"/>
<text x="301.5" y="414.5" font-size="7.7" fill="#939393" text-anchor="middle" font-style="italic">3.8</text>
<line x1="228.5" y1="443.3" x2="317.4" y2="443.3" stroke="#8c8c8c" stroke-width="0.6" fill="none"/>
<line x1="228.5" y1="490.2" x2="317.4" y2="490.2" stroke="#8c8c8c" stroke-width="0.6" fill="none"/>
<line x1="249" y1="455.5" x2="278" y2="455.5" stroke="#8c8c8c" stroke-width="0.6" fill="none"/>
<line x1="249" y1="476.2" x2="278" y2="476.2" stroke="#8c8c8c" stroke-width="0.6" fill="none"/>
<line x1="231.6" y1="443.3" x2="231.6" y2="490.2" stroke="#8c8c8c" stroke-width="0.6" fill="none" marker-start="url(#ar)" marker-end="url(#ar)"/>
<text x="228.8" y="472.4" transform="rotate(-90 228.8 472.4)" font-size="7.7" fill="#8e8e8e" text-anchor="middle">Ø30</text>
<text x="229" y="457" transform="rotate(-90 229 457)" font-size="4.6" fill="#999" text-anchor="middle">-0.03</text><text x="225.4" y="458.5" transform="rotate(-90 225.4 458.5)" font-size="4.6" fill="#999" text-anchor="middle">0</text>
<line x1="250.6" y1="455.5" x2="250.6" y2="476.2" stroke="#8c8c8c" stroke-width="0.6" fill="none" marker-start="url(#ar)" marker-end="url(#ar)"/>
<text x="246.5" y="471" transform="rotate(-90 246.5 471)" font-size="7.7" fill="#8e8e8e" text-anchor="middle">13.4</text>
<text x="246.5" y="457.3" transform="rotate(-90 246.5 457.3)" font-size="4.6" fill="#999" text-anchor="middle">-0.1</text><text x="242.9" y="458.8" transform="rotate(-90 242.9 458.8)" font-size="4.6" fill="#999" text-anchor="middle">0</text>
<line x1="261.1" y1="457.6" x2="261.1" y2="476.2" stroke="#8c8c8c" stroke-width="0.6" fill="none" marker-start="url(#ar)" marker-end="url(#ar)"/>
<line x1="261.1" y1="476.2" x2="261.1" y2="531.5" stroke="#8c8c8c" stroke-width="0.6" fill="none"/>
<text x="259" y="522.7" transform="rotate(-90 259 522.7)" font-size="7.7" fill="#8e8e8e" text-anchor="middle">Ø12</text>
<text x="259" y="506.5" transform="rotate(-90 259 506.5)" font-size="4.6" fill="#999" text-anchor="middle">-0.018</text><text x="255.4" y="508.0" transform="rotate(-90 255.4 508.0)" font-size="4.6" fill="#999" text-anchor="middle">0</text>
<line x1="324.2" y1="544" x2="324.2" y2="565" stroke="#8c8c8c" stroke-width="0.6" fill="none"/>
<line x1="347" y1="542" x2="347" y2="565" stroke="#8c8c8c" stroke-width="0.6" fill="none"/>
<line x1="313" y1="561.2" x2="324.2" y2="561.2" stroke="#8c8c8c" stroke-width="0.6" fill="none" marker-end="url(#ar)"/>
<line x1="358" y1="561.2" x2="347" y2="561.2" stroke="#8c8c8c" stroke-width="0.6" fill="none" marker-end="url(#ar)"/>
<line x1="324.2" y1="561.2" x2="347" y2="561.2" stroke="#8c8c8c" stroke-width="0.6" fill="none"/>
<text x="335.6" y="559.2" font-size="7.7" fill="#939393" text-anchor="middle" font-style="italic">15</text>
<polyline points="380,497 396,559.6 431.8,559.6" stroke="#8c8c8c" stroke-width="0.6" fill="none"/>
<text x="408.2" y="558.5" font-size="7.6" fill="#939393" text-anchor="start" font-style="italic" textLength="23.5" lengthAdjust="spacingAndGlyphs">Outlet</text>
<text x="408.2" y="567.2" font-size="7.6" fill="#939393" text-anchor="start" font-style="italic">D</text>
<rect x="502" y="73.9" width="259.5" height="30.5" fill="#9ecbe7"/>
<rect x="502" y="102.60000000000001" width="259.5" height="1.8" fill="#8cbfe0"/>
<rect x="502" y="124.3" width="259.5" height="17.9" fill="#d7e7f5"/>
<rect x="502" y="162.5" width="259.5" height="17.9" fill="#d7e7f5"/>
<rect x="502" y="200.7" width="259.5" height="17.9" fill="#d7e7f5"/>
<rect x="502" y="238.9" width="259.5" height="17.9" fill="#d7e7f5"/>
<line x1="578.5" y1="73.4" x2="578.5" y2="257.20000000000005" stroke="#4f8aa6" stroke-width="1"/>
<line x1="620.5" y1="73.4" x2="620.5" y2="257.20000000000005" stroke="#4f8aa6" stroke-width="1"/>
<line x1="662.5" y1="73.4" x2="662.5" y2="257.20000000000005" stroke="#4f8aa6" stroke-width="1"/>
<line x1="712.3" y1="73.4" x2="712.3" y2="257.20000000000005" stroke="#4f8aa6" stroke-width="1"/>
<text x="540.25" y="91.9" font-weight="bold" fill="#1f3652" font-size="9" text-anchor="middle">Model</text>
<text x="599.5" y="91.9" font-weight="bold" fill="#1f3652" font-size="9" text-anchor="middle">A</text>
<text x="641.5" y="91.9" font-weight="bold" fill="#1f3652" font-size="9" text-anchor="middle">B</text>
<text x="687.4" y="86.7" font-weight="bold" fill="#1f3652" font-size="9" text-anchor="middle">C</text>
<text x="687.4" y="98.2" font-weight="bold" fill="#1f3652" font-size="9" text-anchor="middle">Inlet</text>
<text x="736.9" y="86.7" font-weight="bold" fill="#1f3652" font-size="9" text-anchor="middle">D</text>
<text x="736.9" y="98.2" font-weight="bold" fill="#1f3652" font-size="9" text-anchor="middle">Outlet</text>
<text x="517.4" y="117.2" fill="#555" font-size="8.9">HGP-1A-08</text>
<text x="599.5" y="117.2" fill="#555" font-size="8.9" text-anchor="middle">67.5</text>
<text x="641.5" y="117.2" fill="#555" font-size="8.9" text-anchor="middle">32.5</text>
<text x="687.4" y="117.2" fill="#555" font-size="8.9" text-anchor="middle">PT 3/8"</text>
<text x="736.9" y="117.2" fill="#555" font-size="8.9" text-anchor="middle">PT 3/8"</text>
<text x="517.4" y="136.3" fill="#555" font-size="8.9">HGP-1A-1</text>
<text x="599.5" y="136.3" fill="#555" font-size="8.9" text-anchor="middle">69.5</text>
<text x="641.5" y="136.3" fill="#555" font-size="8.9" text-anchor="middle">33.5</text>
<text x="687.4" y="136.3" fill="#555" font-size="8.9" text-anchor="middle">PT 3/8"</text>
<text x="736.9" y="136.3" fill="#555" font-size="8.9" text-anchor="middle">PT 3/8"</text>
<text x="517.4" y="155.4" fill="#555" font-size="8.9">HGP-1A-2</text>
<text x="599.5" y="155.4" fill="#555" font-size="8.9" text-anchor="middle">72</text>
<text x="641.5" y="155.4" fill="#555" font-size="8.9" text-anchor="middle">34.8</text>
<text x="687.4" y="155.4" fill="#555" font-size="8.9" text-anchor="middle">PT 3/8"</text>
<text x="736.9" y="155.4" fill="#555" font-size="8.9" text-anchor="middle">PT 3/8"</text>
<text x="517.4" y="174.5" fill="#555" font-size="8.9">HGP-1A-3</text>
<text x="599.5" y="174.5" fill="#555" font-size="8.9" text-anchor="middle">77.5</text>
<text x="641.5" y="174.5" fill="#555" font-size="8.9" text-anchor="middle">37.5</text>
<text x="687.4" y="174.5" fill="#555" font-size="8.9" text-anchor="middle">PT 3/8"</text>
<text x="736.9" y="174.5" fill="#555" font-size="8.9" text-anchor="middle">PT 3/8"</text>
<text x="517.4" y="193.6" fill="#555" font-size="8.9">HGP-1A-4</text>
<text x="599.5" y="193.6" fill="#555" font-size="8.9" text-anchor="middle">79.5</text>
<text x="641.5" y="193.6" fill="#555" font-size="8.9" text-anchor="middle">38.5</text>
<text x="687.4" y="193.6" fill="#555" font-size="8.9" text-anchor="middle">PT 3/8"</text>
<text x="736.9" y="193.6" fill="#555" font-size="8.9" text-anchor="middle">PT 3/8"</text>
<text x="517.4" y="212.7" fill="#555" font-size="8.9">HGP-1A-5</text>
<text x="599.5" y="212.7" fill="#555" font-size="8.9" text-anchor="middle">83.5</text>
<text x="641.5" y="212.7" fill="#555" font-size="8.9" text-anchor="middle">40.5</text>
<text x="687.4" y="212.7" fill="#555" font-size="8.9" text-anchor="middle">PT 3/8"</text>
<text x="736.9" y="212.7" fill="#555" font-size="8.9" text-anchor="middle">PT 3/8"</text>
<text x="517.4" y="231.8" fill="#555" font-size="8.9">HGP-1A-6</text>
<text x="599.5" y="231.8" fill="#555" font-size="8.9" text-anchor="middle">87.5</text>
<text x="641.5" y="231.8" fill="#555" font-size="8.9" text-anchor="middle">42.5</text>
<text x="687.4" y="231.8" fill="#555" font-size="8.9" text-anchor="middle">PT 3/8"</text>
<text x="736.9" y="231.8" fill="#555" font-size="8.9" text-anchor="middle">PT 3/8"</text>
<text x="517.4" y="250.9" fill="#555" font-size="8.9">HGP-1A-8</text>
<text x="599.5" y="250.9" fill="#555" font-size="8.9" text-anchor="middle">93.5</text>
<text x="641.5" y="250.9" fill="#555" font-size="8.9" text-anchor="middle">45.5</text>
<text x="687.4" y="250.9" fill="#555" font-size="8.9" text-anchor="middle">PT 1/2"</text>
<text x="736.9" y="250.9" fill="#555" font-size="8.9" text-anchor="middle">PT 3/8"</text>
<text x="502.5" y="271.0" fill="#555" font-size="8.8" textLength="234.5" lengthAdjust="spacingAndGlyphs">* If you want to order HGP-1A-05 or HGP-1A-26, please</text>
<text x="508.6" y="281.9" fill="#555" font-size="8.8" textLength="151" lengthAdjust="spacingAndGlyphs">email us to get further information.</text>
<rect x="502" y="367.4" width="259.5" height="30.5" fill="#9ecbe7"/>
<rect x="502" y="396.09999999999997" width="259.5" height="1.8" fill="#8cbfe0"/>
<rect x="502" y="417.8" width="259.5" height="17.9" fill="#d7e7f5"/>
<rect x="502" y="456.0" width="259.5" height="17.9" fill="#d7e7f5"/>
<rect x="502" y="494.2" width="259.5" height="17.9" fill="#d7e7f5"/>
<rect x="502" y="532.4" width="259.5" height="17.9" fill="#d7e7f5"/>
<line x1="578.5" y1="366.9" x2="578.5" y2="550.7" stroke="#4f8aa6" stroke-width="1"/>
<line x1="620.5" y1="366.9" x2="620.5" y2="550.7" stroke="#4f8aa6" stroke-width="1"/>
<line x1="662.5" y1="366.9" x2="662.5" y2="550.7" stroke="#4f8aa6" stroke-width="1"/>
<line x1="712.3" y1="366.9" x2="712.3" y2="550.7" stroke="#4f8aa6" stroke-width="1"/>
<text x="540.25" y="385.4" font-weight="bold" fill="#1f3652" font-size="9" text-anchor="middle">Model</text>
<text x="599.5" y="385.4" font-weight="bold" fill="#1f3652" font-size="9" text-anchor="middle">A</text>
<text x="641.5" y="385.4" font-weight="bold" fill="#1f3652" font-size="9" text-anchor="middle">B</text>
<text x="687.4" y="380.2" font-weight="bold" fill="#1f3652" font-size="9" text-anchor="middle">C</text>
<text x="687.4" y="391.7" font-weight="bold" fill="#1f3652" font-size="9" text-anchor="middle">Inlet</text>
<text x="736.9" y="380.2" font-weight="bold" fill="#1f3652" font-size="9" text-anchor="middle">D</text>
<text x="736.9" y="391.7" font-weight="bold" fill="#1f3652" font-size="9" text-anchor="middle">Outlet</text>
<text x="517.4" y="410.7" fill="#555" font-size="8.9">HGP-1A-08</text>
<text x="599.5" y="410.7" fill="#555" font-size="8.9" text-anchor="middle">75.5</text>
<text x="641.5" y="410.7" fill="#555" font-size="8.9" text-anchor="middle">32.5</text>
<text x="687.4" y="410.7" fill="#555" font-size="8.9" text-anchor="middle">PT 3/8"</text>
<text x="736.9" y="410.7" fill="#555" font-size="8.9" text-anchor="middle">PT 3/8"</text>
<text x="517.4" y="429.8" fill="#555" font-size="8.9">HGP-1A-1</text>
<text x="599.5" y="429.8" fill="#555" font-size="8.9" text-anchor="middle">77.5</text>
<text x="641.5" y="429.8" fill="#555" font-size="8.9" text-anchor="middle">33.5</text>
<text x="687.4" y="429.8" fill="#555" font-size="8.9" text-anchor="middle">PT 3/8"</text>
<text x="736.9" y="429.8" fill="#555" font-size="8.9" text-anchor="middle">PT 3/8"</text>
<text x="517.4" y="448.9" fill="#555" font-size="8.9">HGP-1A-2</text>
<text x="599.5" y="448.9" fill="#555" font-size="8.9" text-anchor="middle">80.1</text>
<text x="641.5" y="448.9" fill="#555" font-size="8.9" text-anchor="middle">34.8</text>
<text x="687.4" y="448.9" fill="#555" font-size="8.9" text-anchor="middle">PT 3/8"</text>
<text x="736.9" y="448.9" fill="#555" font-size="8.9" text-anchor="middle">PT 3/8"</text>
<text x="517.4" y="468.0" fill="#555" font-size="8.9">HGP-1A-3</text>
<text x="599.5" y="468.0" fill="#555" font-size="8.9" text-anchor="middle">85.5</text>
<text x="641.5" y="468.0" fill="#555" font-size="8.9" text-anchor="middle">37.5</text>
<text x="687.4" y="468.0" fill="#555" font-size="8.9" text-anchor="middle">PT 3/8"</text>
<text x="736.9" y="468.0" fill="#555" font-size="8.9" text-anchor="middle">PT 3/8"</text>
<text x="517.4" y="487.1" fill="#555" font-size="8.9">HGP-1A-4</text>
<text x="599.5" y="487.1" fill="#555" font-size="8.9" text-anchor="middle">87.5</text>
<text x="641.5" y="487.1" fill="#555" font-size="8.9" text-anchor="middle">38.5</text>
<text x="687.4" y="487.1" fill="#555" font-size="8.9" text-anchor="middle">PT 3/8"</text>
<text x="736.9" y="487.1" fill="#555" font-size="8.9" text-anchor="middle">PT 3/8"</text>
<text x="517.4" y="506.2" fill="#555" font-size="8.9">HGP-1A-5</text>
<text x="599.5" y="506.2" fill="#555" font-size="8.9" text-anchor="middle">91.5</text>
<text x="641.5" y="506.2" fill="#555" font-size="8.9" text-anchor="middle">40.5</text>
<text x="687.4" y="506.2" fill="#555" font-size="8.9" text-anchor="middle">PT 3/8"</text>
<text x="736.9" y="506.2" fill="#555" font-size="8.9" text-anchor="middle">PT 3/8"</text>
<text x="517.4" y="525.3" fill="#555" font-size="8.9">HGP-1A-6</text>
<text x="599.5" y="525.3" fill="#555" font-size="8.9" text-anchor="middle">95.5</text>
<text x="641.5" y="525.3" fill="#555" font-size="8.9" text-anchor="middle">42.5</text>
<text x="687.4" y="525.3" fill="#555" font-size="8.9" text-anchor="middle">PT 3/8"</text>
<text x="736.9" y="525.3" fill="#555" font-size="8.9" text-anchor="middle">PT 3/8"</text>
<text x="517.4" y="544.4" fill="#555" font-size="8.9">HGP-1A-8</text>
<text x="599.5" y="544.4" fill="#555" font-size="8.9" text-anchor="middle">101.5</text>
<text x="641.5" y="544.4" fill="#555" font-size="8.9" text-anchor="middle">45.5</text>
<text x="687.4" y="544.4" fill="#555" font-size="8.9" text-anchor="middle">PT 1/2"</text>
<text x="736.9" y="544.4" fill="#555" font-size="8.9" text-anchor="middle">PT 3/8"</text>
<text x="502.5" y="563.8" fill="#555" font-size="8.8" textLength="234.5" lengthAdjust="spacingAndGlyphs">* If you want to order HGP-1A-05 or HGP-1A-26, please</text>
<text x="508.6" y="574.7" fill="#555" font-size="8.8" textLength="151" lengthAdjust="spacingAndGlyphs">email us to get further information.</text>
</svg>
</body></html>
